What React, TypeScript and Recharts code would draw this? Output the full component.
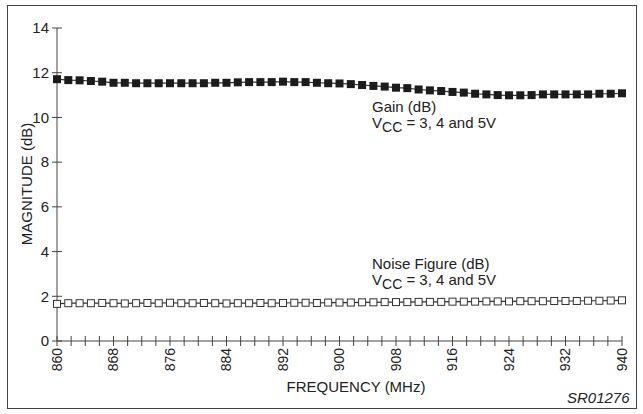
import React from "react";
import { LineChart, Line, XAxis, YAxis } from "recharts";

const frequencies = [
  860, 861.6, 863.2, 864.8, 866.4, 868, 869.6, 871.2, 872.8, 874.4, 876,
  877.6, 879.2, 880.8, 882.4, 884, 885.6, 887.2, 888.8, 890.4, 892, 893.6,
  895.2, 896.8, 898.4, 900, 901.6, 903.2, 904.8, 906.4, 908, 909.6, 911.2,
  912.8, 914.4, 916, 917.6, 919.2, 920.8, 922.4, 924, 925.6, 927.2, 928.8,
  930.4, 932, 933.6, 935.2, 936.8, 938.4, 940,
];

const gain = [
  11.71, 11.67, 11.66, 11.63, 11.6, 11.55, 11.55, 11.53, 11.53, 11.53, 11.53,
  11.53, 11.53, 11.53, 11.55, 11.55, 11.57, 11.58, 11.58, 11.58, 11.6, 11.58,
  11.58, 11.55, 11.53, 11.52, 11.49, 11.45, 11.41, 11.38, 11.33, 11.31, 11.25,
  11.21, 11.18, 11.14, 11.11, 11.06, 11.03, 11.0, 10.99, 10.99, 11.0, 11.03,
  11.03, 11.03, 11.03, 11.03, 11.06, 11.06, 11.08,
];

const noiseFigure = [
  1.66, 1.69, 1.69, 1.69, 1.7, 1.69, 1.68, 1.69, 1.7, 1.69, 1.71, 1.69, 1.69,
  1.7, 1.69, 1.68, 1.69, 1.69, 1.7, 1.69, 1.7, 1.71, 1.71, 1.7, 1.72, 1.72,
  1.72, 1.73, 1.73, 1.74, 1.74, 1.74, 1.75, 1.75, 1.75, 1.76, 1.76, 1.76,
  1.77, 1.77, 1.77, 1.78, 1.78, 1.78, 1.79, 1.79, 1.79, 1.8, 1.8, 1.81, 1.82,
];

const xTicks = [
  860, 862, 864, 866, 868, 870, 872, 874, 876, 878, 880, 882, 884, 886, 888,
  890, 892, 894, 896, 898, 900, 902, 904, 906, 908, 910, 912, 914, 916, 918,
  920, 922, 924, 926, 928, 930, 932, 934, 936, 938, 940,
];
const xLabels = [860, 868, 876, 884, 892, 900, 908, 916, 924, 932, 940];
const yTicks = [0, 2, 4, 6, 8, 10, 12, 14];

const data = frequencies.map((f, i) => ({
  freq: f,
  gain: gain[i],
  nf: noiseFigure[i],
}));

const FONT = "'Liberation Sans', Arial, sans-serif";
const INK = "#222";

function XTick(props: any) {
  const { x, y, payload } = props;
  const show = xLabels.includes(payload.value);
  return (
    <g>
      <line x1={x} x2={x} y1={y - 5} y2={y + 5} stroke="#444" />
      {show && (
        <text
          transform={`translate(${x},${y + 7}) rotate(-90)`}
          textAnchor="end"
          dy="0.35em"
          fontSize={14}
          fontFamily={FONT}
          fill={INK}
        >
          {payload.value}
        </text>
      )}
    </g>
  );
}

function YTick(props: any) {
  const { x, y, payload } = props;
  return (
    <g>
      <line x1={x - 5} x2={x + 5} y1={y} y2={y} stroke="#444" />
      <text
        x={x - 8}
        y={y}
        dy="0.35em"
        textAnchor="end"
        fontSize={15}
        fontFamily={FONT}
        fill={INK}
      >
        {payload.value}
      </text>
    </g>
  );
}

function FilledSquare(props: any) {
  const { cx, cy, index } = props;
  return <rect key={index} x={cx - 4} y={cy - 4} width={8} height={8} fill="#1c1c1c" />;
}

function HollowSquare(props: any) {
  const { cx, cy, index } = props;
  return (
    <rect
      key={index}
      x={cx - 3.5}
      y={cy - 3.5}
      width={7}
      height={7}
      fill="#fff"
      stroke="#333"
      strokeWidth={1}
    />
  );
}

const txt: React.CSSProperties = {
  position: "absolute",
  fontFamily: FONT,
  fontSize: 15,
  color: INK,
  whiteSpace: "nowrap",
  lineHeight: "16px",
};

function Vcc() {
  return (
    <div>
      V<span style={{ fontSize: 14, position: "relative", top: 4 }}>CC</span> = 3, 4 and 5V
    </div>
  );
}

export default function App() {
  return (
    <div
      style={{
        position: "absolute",
        left: 0,
        top: 0,
        width: 643,
        height: 414,
        background: "#fff",
      }}
    >
      <div
        style={{
          position: "absolute",
          left: 7,
          top: 5,
          width: 628,
          height: 402,
          border: "1.5px solid #444",
        }}
      />
      <LineChart
        width={643}
        height={414}
        data={data}
        margin={{ top: 28, right: 21, left: 0, bottom: 0 }}
        style={{ position: "absolute", left: 0, top: 0 }}
      >
        <XAxis
          dataKey="freq"
          type="number"
          domain={[860, 940]}
          ticks={xTicks}
          interval={0}
          height={73}
          tickSize={0}
          tickMargin={0}
          tickLine={false}
          axisLine={{ stroke: "#444" }}
          tick={<XTick />}
        />
        <YAxis
          type="number"
          domain={[0, 14]}
          ticks={yTicks}
          interval={0}
          width={57}
          tickSize={0}
          tickMargin={0}
          tickLine={false}
          axisLine={{ stroke: "#444" }}
          tick={<YTick />}
        />
        <Line
          dataKey="gain"
          stroke="#333"
          strokeWidth={1.2}
          dot={<FilledSquare />}
          isAnimationActive={false}
        />
        <Line
          dataKey="nf"
          stroke="#333"
          strokeWidth={1.2}
          dot={<HollowSquare />}
          isAnimationActive={false}
        />
      </LineChart>

      <div
        style={{
          ...txt,
          left: 27,
          top: 184,
          transform: "translate(-50%, -50%) rotate(-90deg)",
        }}
      >
        MAGNITUDE (dB)
      </div>
      <div style={{ ...txt, left: 356, top: 387, transform: "translate(-50%, -50%)" }}>
        FREQUENCY (MHz)
      </div>
      <div style={{ ...txt, left: 567, top: 390, fontStyle: "italic" }}>SR01276</div>

      <div style={{ ...txt, left: 372, top: 99 }}>
        <div>Gain (dB)</div>
        <Vcc />
      </div>
      <div style={{ ...txt, left: 372, top: 256 }}>
        <div>Noise Figure (dB)</div>
        <Vcc />
      </div>
    </div>
  );
}
